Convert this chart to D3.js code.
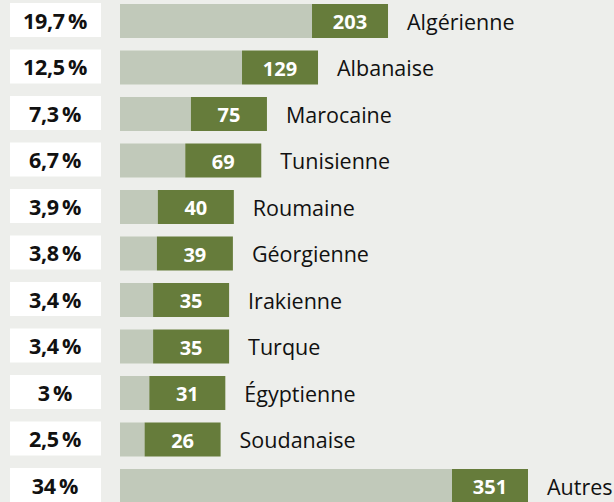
<!DOCTYPE html>
<html>
<head>
<meta charset="utf-8">
<script src="https://cdn.jsdelivr.net/npm/d3@7"></script>
<style>
  html, body { margin: 0; padding: 0; background: #edeeeb; }
  svg { display: block; }
</style>
</head>
<body>
<div id="chart"></div>
<script>
'use strict'
const nationalities = ["Algérienne","Albanaise","Marocaine","Tunisienne","Roumaine","Géorgienne","Irakienne","Turque","Égyptienne","Soudanaise","Autres"]
const counts = [203,129,75,69,40,39,35,35,31,26,351]
const shares = ["19,7","12,5","7,3","6,7","3,9","3,8","3,4","3,4","3","2,5","34"]

const width = 614, height = 502
const rowStep = 46.5, rowH = 34, top0 = 4
const barX = 120, tagW = 76
const n = nationalities.length

const svg = d3.select("#chart")
  .append("svg")
    .attr("width", width)
    .attr("height", height)

svg.append("rect")
  .attr("width", width)
  .attr("height", height)
  .attr("fill", "#edeeeb")

const y = d3.scaleBand()
  .domain(nationalities)
  .range([top0, top0 + rowStep * (n - 1) + rowH])
  .paddingInner((rowStep - rowH) / rowStep)
  .paddingOuter(0)

const x = d3.scaleLinear()
  .domain([0, 351])
  .range([0, 332])

const rows = svg.selectAll("g.row")
  .data(nationalities.map((d, i) => ({name: d, count: counts[i], share: shares[i]})))
  .enter()
  .append("g")
    .attr("class", "row")
    .attr("transform", d => `translate(0,${y(d.name)})`)

// share boxes on the left
rows.append("rect")
  .attr("x", 10)
  .attr("y", -1)
  .attr("width", 91)
  .attr("height", rowH)
  .attr("fill", "#ffffff")
rows.append("text")
  .attr("x", 55)
  .attr("y", rowH / 2)
  .attr("dy", "0.35em")
  .attr("text-anchor", "middle")
  .attr("font-family", "'Open Sans', sans-serif")
  .attr("font-weight", "bold")
  .attr("font-size", 21.5)
  .attr("letter-spacing", -0.3)
  .attr("fill", "#111")
  .text(d => d.share + "\u2009%")

// light bar
rows.append("rect")
  .attr("x", barX)
  .attr("y", 0)
  .attr("width", d => x(d.count))
  .attr("height", rowH)
  .attr("fill", "#c1c9ba")

// green tag with count
rows.append("rect")
  .attr("x", d => barX + x(d.count))
  .attr("y", 0)
  .attr("width", tagW)
  .attr("height", rowH)
  .attr("fill", "#667c3b")
rows.append("text")
  .attr("x", d => barX + x(d.count) + tagW / 2)
  .attr("y", rowH / 2 + 1)
  .attr("dy", "0.35em")
  .attr("text-anchor", "middle")
  .attr("font-family", "'Open Sans', sans-serif")
  .attr("font-weight", "bold")
  .attr("font-size", 20)
  .attr("fill", "#ffffff")
  .text(d => d.count)

// nationality label
rows.append("text")
  .attr("x", d => barX + x(d.count) + tagW + 19)
  .attr("y", rowH / 2 + 1)
  .attr("dy", "0.35em")
  .attr("font-family", "'Open Sans', sans-serif")
  .attr("font-size", 21.5)
  .attr("fill", "#111")
  .text(d => d.name)
</script>
</body>
</html>
